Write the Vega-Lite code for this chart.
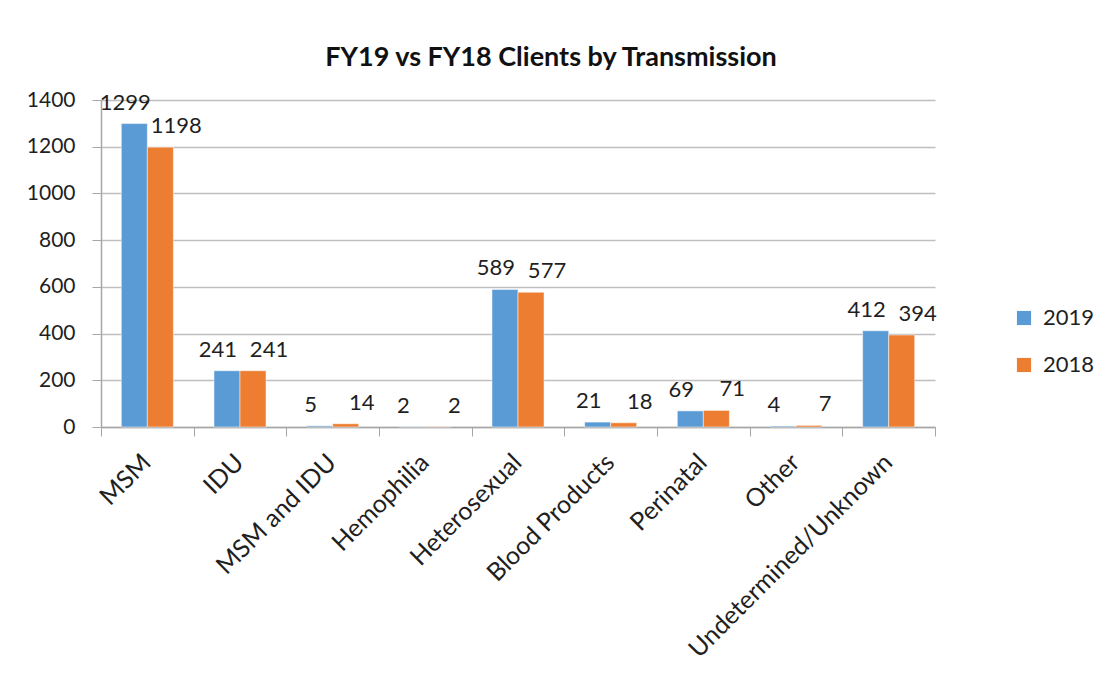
{
  "$schema": "https://vega.github.io/schema/vega-lite/v6.json",
  "autosize": {"type": "none"},
  "width": 834,
  "height": 327,
  "padding": {"left": 101, "top": 100, "right": 172, "bottom": 247},
  "background": "white",
  "title": {
    "text": "FY19 vs FY18 Clients by Transmission",
    "font": "Lato",
    "fontSize": 27,
    "fontWeight": "bold",
    "color": "#111111",
    "anchor": "middle",
    "dx": 33,
    "offset": 17
  },
  "config": {
    "view": {"stroke": null},
    "font": "Lato"
  },
  "data": {
    "values": [
      {"category": "MSM", "year": "2019", "clients": 1299},
      {"category": "MSM", "year": "2018", "clients": 1198},
      {"category": "IDU", "year": "2019", "clients": 241},
      {"category": "IDU", "year": "2018", "clients": 241},
      {"category": "MSM and IDU", "year": "2019", "clients": 5},
      {"category": "MSM and IDU", "year": "2018", "clients": 14},
      {"category": "Hemophilia", "year": "2019", "clients": 2},
      {"category": "Hemophilia", "year": "2018", "clients": 2},
      {"category": "Heterosexual", "year": "2019", "clients": 589},
      {"category": "Heterosexual", "year": "2018", "clients": 577},
      {"category": "Blood Products", "year": "2019", "clients": 21},
      {"category": "Blood Products", "year": "2018", "clients": 18},
      {"category": "Perinatal", "year": "2019", "clients": 69},
      {"category": "Perinatal", "year": "2018", "clients": 71},
      {"category": "Other", "year": "2019", "clients": 4},
      {"category": "Other", "year": "2018", "clients": 7},
      {"category": "Undetermined/Unknown", "year": "2019", "clients": 412},
      {"category": "Undetermined/Unknown", "year": "2018", "clients": 394}
    ]
  },
  "encoding": {
    "x": {
      "field": "category",
      "type": "nominal",
      "sort": null,
      "title": null,
      "scale": {"paddingInner": 0, "paddingOuter": 0},
      "axis": {
        "labelAngle": -45,
        "labelAlign": "right",
        "labelBaseline": "middle",
        "labelFontSize": 25,
        "labelColor": "#1f1f1f",
        "labelPadding": 22,
        "labelOffset": -1,
        "labelLimit": 0,
        "tickBand": "extent",
        "tickSize": 9,
        "tickColor": "#a6a6a6",
        "domainColor": "#a6a6a6",
        "domainWidth": 1.5,
        "grid": false
      }
    },
    "xOffset": {
      "field": "year",
      "type": "nominal",
      "sort": ["2019", "2018"],
      "scale": {"paddingInner": 0, "paddingOuter": 0.78}
    },
    "y": {
      "field": "clients",
      "type": "quantitative",
      "title": null,
      "scale": {"domain": [0, 1400], "nice": false},
      "axis": {
        "values": [0, 200, 400, 600, 800, 1000, 1200, 1400],
        "format": "d",
        "labelFontSize": 21,
        "labelColor": "#1f1f1f",
        "labelPadding": 17,
        "tickSize": 9,
        "tickColor": "#a6a6a6",
        "domainColor": "#a6a6a6",
        "domainWidth": 1.5,
        "gridColor": "#bfbfbf",
        "gridWidth": 1.5
      }
    }
  },
  "layer": [
    {
      "mark": {"type": "bar", "stroke": "white", "strokeWidth": 0.5},
      "encoding": {
        "color": {
          "field": "year",
          "type": "nominal",
          "sort": ["2019", "2018"],
          "title": null,
          "scale": {"domain": ["2019", "2018"], "range": ["#5B9BD5", "#ED7D31"]},
          "legend": {
            "orient": "none",
            "legendX": 912,
            "legendY": 207,
            "symbolType": "square",
            "symbolSize": 200,
            "symbolStrokeWidth": 0,
            "labelFontSize": 22,
            "labelColor": "#1f1f1f",
            "labelOffset": 8,
            "rowPadding": 25
          }
        }
      }
    },
    {
      "transform": [{"filter": "datum.year === '2019'"}],
      "mark": {"type": "text", "baseline": "bottom", "dy": -9, "dx": -9, "fontSize": 22, "color": "#1f1f1f"},
      "encoding": {"text": {"field": "clients", "type": "quantitative"}}
    },
    {
      "transform": [{"filter": "datum.year === '2018'"}],
      "mark": {"type": "text", "baseline": "bottom", "dy": -9, "dx": 16, "fontSize": 22, "color": "#1f1f1f"},
      "encoding": {"text": {"field": "clients", "type": "quantitative"}}
    }
  ]
}
